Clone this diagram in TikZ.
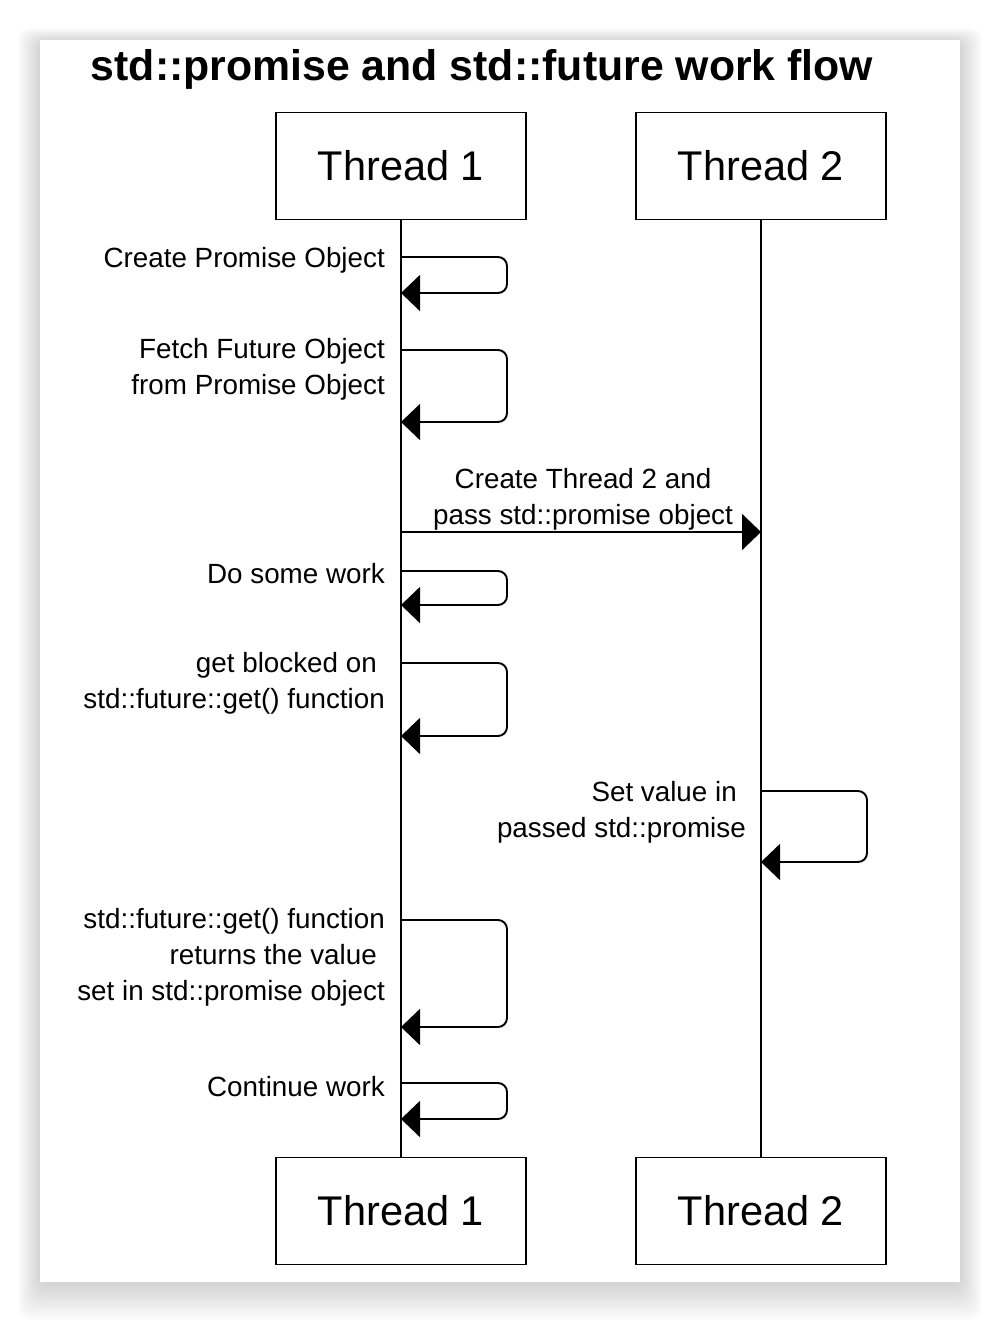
\documentclass[tikz,border=0pt]{standalone}
\usepackage{fontspec}
\setmainfont{Liberation Sans}
\usetikzlibrary{arrows.meta}
\tikzset{
    thread/.style={rectangle,draw,line width=1.9pt,minimum width=250pt,minimum height=107pt,font=\fontsize{41.5}{48}\selectfont},
    life/.style={-,line width=1.9pt,draw=black},
    selfmsg/.style={-{Triangle[length=19pt,width=36pt]},line width=1.9pt,rounded corners=9pt},
    msg/.style={-{Triangle[length=19pt,width=36pt]},line width=1.9pt},
    lbl/.style={align=right,anchor=east,inner sep=0pt,font=\fontsize{27.8}{36}\selectfont},
}

\begin{document}
\begin{tikzpicture}[x=1pt,y=-1pt]
\useasboundingbox (0,0) rectangle (1000,1322);
\fill[white] (0,0) rectangle (1000,1322);
% soft card shadow
\foreach \i in {1,...,14}
    \fill[black,opacity=0.012,rounded corners=12pt] (40-1.6*\i,42-1*\i) rectangle (960+1.6*\i,1284+2.6*\i);
\fill[white] (40,40) rectangle (960,1282);

\node[font=\fontsize{42.8}{50}\selectfont\bfseries] (title) at (482,69) {std::promise and std::future work flow};

\node[thread] (t1top) at (401,166) {Thread 1};
\node[thread] (t2top) at (761,166) {Thread 2};
\node[thread] (t1bot) at (401,1211) {Thread 1};
\node[thread] (t2bot) at (761,1211) {Thread 2};
\draw[life] (t1top) -- (t1bot);
\draw[life] (t2top) -- (t2bot);

% thread 1 steps
\coordinate (c1a) at (401,257); \coordinate (c1b) at (401,293);
\coordinate (c2a) at (401,350); \coordinate (c2b) at (401,422);
\coordinate (c3a) at (401,571); \coordinate (c3b) at (401,605);
\coordinate (c4a) at (401,663); \coordinate (c4b) at (401,736);
\coordinate (c6a) at (401,920); \coordinate (c6b) at (401,1027);
\coordinate (c7a) at (401,1083); \coordinate (c7b) at (401,1119);
\draw[selfmsg] (c1a) -- ++(106,0) |- (c1b);
\draw[selfmsg] (c2a) -- ++(106,0) |- (c2b);
\draw[selfmsg] (c3a) -- ++(106,0) |- (c3b);
\draw[selfmsg] (c4a) -- ++(106,0) |- (c4b);
\draw[selfmsg] (c6a) -- ++(106,0) |- (c6b);
\draw[selfmsg] (c7a) -- ++(106,0) |- (c7b);

% thread 2 step
\coordinate (c5a) at (761,791); \coordinate (c5b) at (761,862);
\draw[selfmsg] (c5a) -- ++(106,0) |- (c5b);

% spawn message
\coordinate (m1) at (401,532); \coordinate (m2) at (761,532);
\draw[msg] (m1) -- (m2);

\node[lbl] (l1) at (385,260) {Create Promise Object};
\node[lbl] (l2) at (385,369) {Fetch Future Object\\from Promise Object};
\node[lbl,align=center,anchor=center] (lm) at (583,499) {Create Thread 2 and\\pass std::promise object};
\node[lbl] (l3) at (385,574) {Do some work};
\node[lbl] (l4) at (385,683) {get blocked on\kern8pt\\std::future::get() function};
\node[lbl] (l5) at (746,812) {Set value in\kern9pt\\passed std::promise};
\node[lbl] (l6) at (385,957) {std::future::get() function\\returns the value\kern8pt\\set in std::promise object};
\node[lbl] (l7) at (385,1087) {Continue work};
\end{tikzpicture}
\end{document}
